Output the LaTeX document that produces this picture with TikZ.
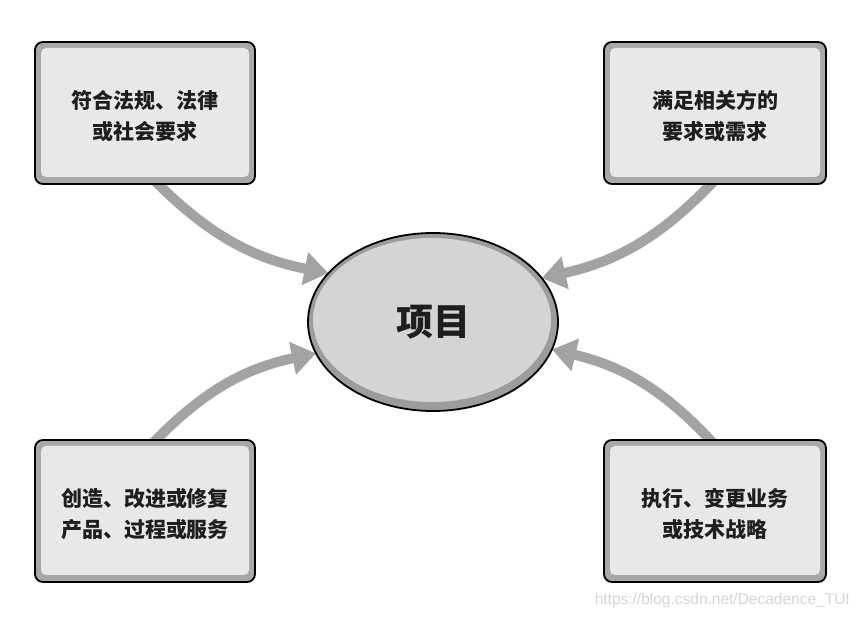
\documentclass[tikz,border=0pt]{standalone}
\usepackage{fontspec}
\setmainfont{Liberation Sans}
\newfontfamily\cjk{Noto Sans CJK SC}
\usetikzlibrary{arrows.meta,shapes.geometric,backgrounds}
\definecolor{arrowgray}{HTML}{A3A3A3}
\definecolor{ringgray}{HTML}{A8A8A8}
\definecolor{boxfill}{HTML}{E8E8E8}
\definecolor{ellring}{HTML}{9C9C9C}
\definecolor{ellfill}{HTML}{D4D4D4}
\definecolor{textc}{HTML}{1E1E1E}
\definecolor{wmark}{HTML}{D5D5D5}
\tikzset{
  infobox/.style={rectangle, minimum width=220pt, minimum height=142pt,
    fill=ringgray, draw=black, line width=1.8pt, rounded corners=8pt,
    inner sep=0pt, outer sep=0pt,
    path picture={\fill[boxfill, rounded corners=5pt]
      ([shift={(6pt,7pt)}]path picture bounding box.south west) rectangle
      ([shift={(-6pt,-6pt)}]path picture bounding box.north east);}},
  boxtext/.style={align=center, text=textc, inner sep=0pt,
    font=\cjk\bfseries\fontsize{21}{31}\selectfont},
  centre/.style={ellipse, minimum width=250pt, minimum height=178pt,
    fill=ellring, draw=black, line width=1.8pt, inner sep=0pt, outer sep=0pt,
    text=textc, font=\cjk\bfseries\fontsize{37}{40}\selectfont,
    path picture={\fill[ellfill]
      ([shift={(-1pt,2pt)}]path picture bounding box.center)
      ellipse [x radius=119pt, y radius=82pt];}},
  flow/.style={draw=arrowgray, line width=10pt,
    -{Triangle[width=32pt,length=24pt]}}
}
\begin{document}
\begin{tikzpicture}[x=1pt,y=1pt]
\useasboundingbox (0,0) rectangle (860,618);
\node[infobox] (tl) at (145,505) {};
\node[infobox, minimum width=222pt] (tr) at (715,505) {};
\node[infobox] (bl) at (145,107) {};
\node[infobox, minimum width=222pt] (br) at (715,107) {};
\node[boxtext] (tlt) at ([yshift=-3pt]tl.center) {符合法规、法律\\或社会要求};
\node[boxtext] (trt) at ([yshift=-3pt]tr.center) {满足相关方的\\要求或需求};
\node[boxtext] (blt) at ([yshift=-3pt]bl.center) {创造、改进或修复\\产品、过程或服务};
\node[boxtext] (brt) at ([yshift=-3pt]br.center) {执行、变更业务\\或技术战略};
\node[centre] (proj) at (433,296) {项目};
\begin{scope}[on background layer]
\draw[flow] ([xshift=9pt,yshift=4pt]tl.south) to[bend right=17] (proj.155);
\draw[flow] ([xshift=0pt,yshift=4pt]tr.south) to[bend left=17] (proj.22);
\draw[flow] ([xshift=7pt,yshift=-4pt]bl.north) to[bend left=17] (proj.195);
\draw[flow] ([xshift=-1pt,yshift=-4pt]br.north) to[bend right=17] (proj.-13);
\end{scope}
\node[anchor=east, text=wmark, font=\fontsize{15.5}{16}\selectfont, inner sep=0pt] (wm) at (850,18) {https://blog.csdn.net/Decadence\_TUI};
\end{tikzpicture}
\end{document}
